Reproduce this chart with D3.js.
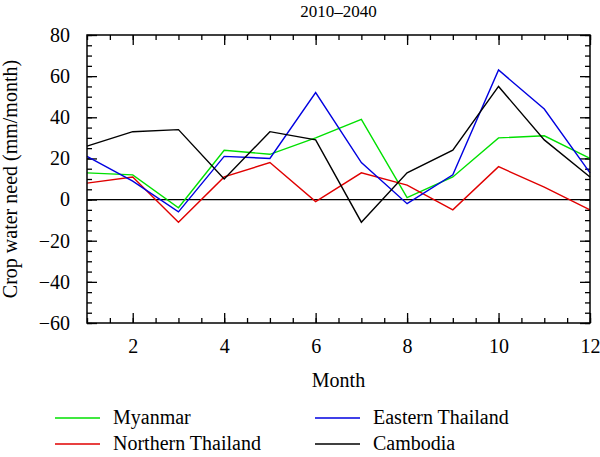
<!DOCTYPE html><html><head><meta charset="utf-8"><script src="https://d3js.org/d3.v7.min.js"></script>
<style>body{margin:0;background:#fff}text{font-family:"Liberation Serif",serif}</style></head><body><svg width="600" height="457"></svg>
<script>
const months=[1,2,3,4,5,6,7,8,9,10,11,12];
const myanmar=[13,12,-4,24,22,30,39,1,11,30,31,20];
const northern=[8,11,-11,11,18,-1,13,7,-5,16,6,-5];
const eastern=[21,9,-6,21,20,52,18,-2,12,63,44,13];
const cambodia=[26,33,34,10,33,29,-11,13,24,55,29,11];
const series=[{name:"Myanmar",v:myanmar,c:"#00e000"},{name:"Northern Thailand",v:northern,c:"#e00000"},{name:"Eastern Thailand",v:eastern,c:"#0000e0"},{name:"Cambodia",v:cambodia,c:"#000"}];
const L=87,R=590,T=35,B=323;
const svg=d3.select("svg");
const x=d3.scaleLinear().domain([1,12]).range([L,R]);
const y=d3.scaleLinear().domain([-60,80]).range([B,T]);
const xMaj=[2,4,6,8,10,12], xMin=d3.range(1,12.01,0.5);
const yMaj=d3.range(-60,81,20), yMin=d3.range(-60,81,5);
const ax=(gen,tr)=>svg.append("g").attr("transform",tr).call(gen).call(s=>{s.select(".domain").remove();s.selectAll("line").attr("stroke","#000").attr("stroke-width",1.3);});
ax(d3.axisBottom(x).tickValues(xMin).tickSize(-5).tickFormat(""),`translate(0,${B})`);
ax(d3.axisTop(x).tickValues(xMin).tickSize(-5).tickFormat(""),`translate(0,${T})`);
ax(d3.axisLeft(y).tickValues(yMin).tickSize(-5).tickFormat(""),`translate(${L},0)`);
ax(d3.axisRight(y).tickValues(yMin).tickSize(-5).tickFormat(""),`translate(${R},0)`);
ax(d3.axisBottom(x).tickValues(xMaj).tickSize(-10).tickPadding(16).tickFormat(d3.format("d")),`translate(0,${B})`).attr("font-size",20).attr("font-family","Liberation Serif");
ax(d3.axisTop(x).tickValues(xMaj).tickSize(-10).tickFormat(""),`translate(0,${T})`);
ax(d3.axisLeft(y).tickValues(yMaj).tickSize(-10).tickPadding(17).tickFormat(d=>d<0?"\u2212"+(-d):d),`translate(${L},0)`).attr("font-size",20).attr("font-family","Liberation Serif");
ax(d3.axisRight(y).tickValues(yMaj).tickSize(-10).tickFormat(""),`translate(${R},0)`);
svg.selectAll(".tick text").attr("fill","#000");
svg.append("line").attr("x1",L).attr("x2",R).attr("y1",y(0)).attr("y2",y(0)).attr("stroke","#000").attr("stroke-width",1.3);
const line=d3.line().x((d,i)=>x(months[i])).y(d=>y(d));
series.forEach(s=>svg.append("path").attr("d",line(s.v)).attr("fill","none").attr("stroke",s.c).attr("stroke-width",1.4));
svg.append("rect").attr("x",L).attr("y",T).attr("width",R-L).attr("height",B-T).attr("fill","none").attr("stroke","#000").attr("stroke-width",1.5);
svg.append("text").attr("x",(L+R)/2).attr("y",17).attr("text-anchor","middle").attr("font-size",17).text("2010\u20132040");
svg.append("text").attr("x",(L+R)/2).attr("y",387).attr("text-anchor","middle").attr("font-size",20).text("Month");
svg.append("text").attr("transform",`translate(17,${(T+B)/2}) rotate(-90)`).attr("text-anchor","middle").attr("font-size",20).text("Crop water need (mm/month)");
const leg=[[0,55,424],[1,55,450],[2,315,424],[3,315,450]];
leg.forEach(([i,lx,ly])=>{svg.append("line").attr("x1",lx).attr("x2",lx+45).attr("y1",ly-6).attr("y2",ly-6).attr("stroke",series[i].c).attr("stroke-width",1.4);
svg.append("text").attr("x",lx+58).attr("y",ly).attr("font-size",20).text(series[i].name);});
</script></body></html>
